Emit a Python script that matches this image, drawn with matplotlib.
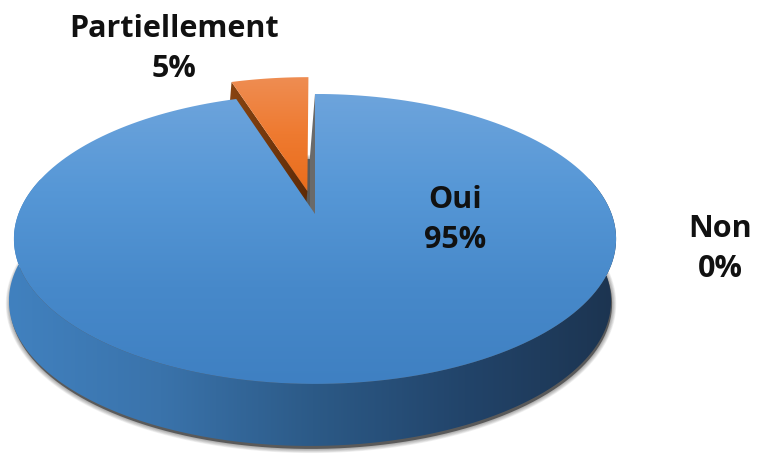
import numpy as np
import matplotlib.pyplot as plt
from matplotlib.patches import Polygon
from matplotlib.colors import LinearSegmentedColormap

labels = ["Oui", "Non", "Partiellement"]
values = [95, 0, 5]
explode = [0.0, 0.0, 0.17]
pct_text = ["95%", "0%", "5%"]

# pie projection (screen pixels): centre, radii, perspective and thickness
cx, cy = 315, 214
rx, ry, persp = 296.6, 140.7, 0.172
depth, skew = 62, -5

fig = plt.figure(figsize=(7.57, 4.55), dpi=100)
ax = fig.add_axes([0, 0, 1, 1])
ax.set_xlim(0, 757)
ax.set_ylim(455, 0)
ax.axis("off")


def project(u, v, z=0.0):
    u = np.asarray(u, float)
    v = np.asarray(v, float)
    w = 1 + persp * v
    return np.column_stack([cx + rx * u / w + skew * z, cy - ry * v / w + depth * z])


def arc(t0, t1, off=(0, 0), z=0.0, n=200):
    t = np.radians(np.linspace(t0, t1, n))
    return project(off[0] + np.sin(t), off[1] + np.cos(t), z)


def shaded(pts, colors, horizontal=False, zorder=1):
    patch = Polygon(pts, closed=True, facecolor="none", edgecolor="none")
    ax.add_patch(patch)
    x0, y0 = pts.min(axis=0)
    x1, y1 = pts.max(axis=0)
    cmap = LinearSegmentedColormap.from_list("g", colors)
    grad = np.linspace(0, 1, 256)
    img = grad[None, :] if horizontal else grad[:, None]
    im = ax.imshow(img, cmap=cmap, extent=(x0, x1, y1, y0), origin="upper",
                   aspect="auto", interpolation="bilinear", zorder=zorder)
    im.set_clip_path(patch)


# slice angles, clockwise from 12 o'clock
total = sum(values)
ends = np.cumsum(values) / total * 360
starts = ends - np.array(values) / total * 360
offsets = []
for s, e, ex in zip(starts, ends, explode):
    mid = np.radians((s + e) / 2)
    offsets.append((ex * np.sin(mid), ex * np.cos(mid)))

# thin soft shadow under the base
base = arc(0, 360, z=1.0) + [1, 3]
for lw in np.linspace(6, 1, 6):
    ax.add_patch(Polygon(base, closed=True, facecolor="none",
                         edgecolor="#000000", lw=lw, alpha=0.06, zorder=0))
ax.add_patch(Polygon(base, closed=True, facecolor="#5a5a5a", edgecolor="none", zorder=0))

# Oui: outer wall, cut face, top
s0, e0 = starts[0], ends[0]
a0, a1 = max(s0, 75), min(e0, 285)
wall = np.vstack([arc(a0, a1), arc(a1, a0, z=1.0)])
shaded(wall, ["#4181bf", "#3a73ab", "#2c5a87", "#22446a", "#1c3450"],
       horizontal=True, zorder=1)

cut = np.vstack([project([0, np.sin(np.radians(s0))], [0, np.cos(np.radians(s0))]),
                 project([np.sin(np.radians(s0)), 0], [np.cos(np.radians(s0)), 0], 1.0)])
ax.add_patch(Polygon(cut, closed=True, facecolor="#6a6a6a", edgecolor="none", zorder=2))

# Partiellement: exploded slice
s2, e2 = starts[2], ends[2]
off = offsets[2]
t = np.radians(s2)
face = np.vstack([project([off[0], off[0] + np.sin(t)], [off[1], off[1] + np.cos(t)]),
                  project([off[0] + np.sin(t), off[0]], [off[1] + np.cos(t), off[1]], 1.0)])
shaded(face, ["#8a4512", "#5e2b08"], horizontal=True, zorder=3)
top2 = np.vstack([project([off[0]], [off[1]]), arc(s2, e2, off)])
shaded(top2, ["#ef8d52", "#ee7a30", "#ea6d1c"], zorder=4)

# Oui top face drawn last so it hides the lower parts behind it
top0 = np.vstack([project([0], [0]), arc(s0, e0)])
shaded(top0, ["#6da4dc", "#5697d6", "#4789ca", "#3f80c2"], zorder=5)

font = dict(family="Open Sans", fontweight="bold", fontsize=22, color="#111111",
            ha="center", va="center", linespacing=1.45, zorder=10)
ax.text(455, 220, f"{labels[0]}\n{pct_text[0]}", **font)
ax.text(720, 249, f"{labels[1]}\n{pct_text[1]}", **font)
ax.text(174, 49, f"{labels[2]}\n{pct_text[2]}", **font)

fig.savefig("out.png", dpi=100)
